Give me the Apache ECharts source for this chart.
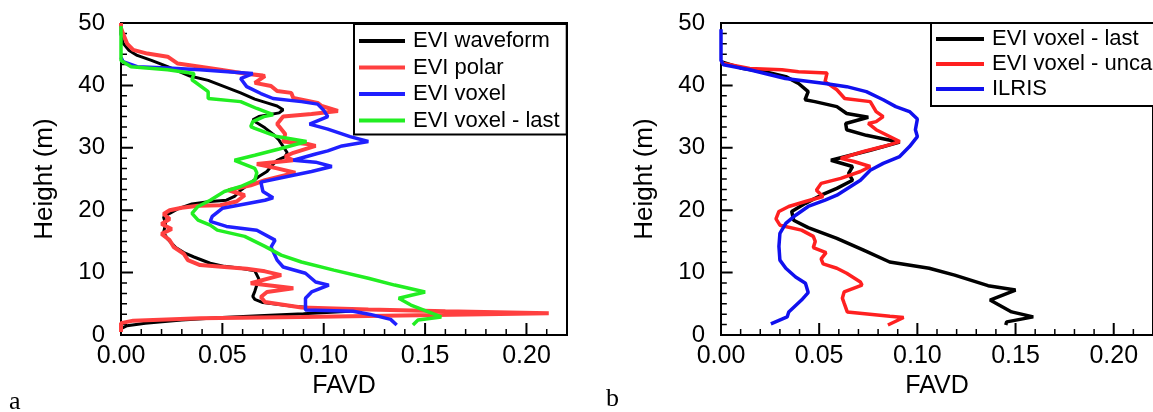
<!DOCTYPE html>
<html>
<head>
<meta charset="utf-8">
<script src="https://cdn.jsdelivr.net/npm/echarts@6/dist/echarts.min.js"></script>
<style>
  html, body { margin: 0; padding: 0; background: #fff; }
  #chart { width: 1153px; height: 412px; }
</style>
</head>
<body>
<div id="chart"></div>
<script>
// axis ranges and tick positions
const xRange = [0, 0.22]
const yRange = [0, 50]
const xMajorTicks = [0.05, 0.10, 0.15, 0.20]
const xMinorTicks = [0.01, 0.02, 0.03, 0.04, 0.06, 0.07, 0.08, 0.09, 0.11, 0.12, 0.13, 0.14, 0.16, 0.17, 0.18, 0.19, 0.21]
const yMajorTicks = [10, 20, 30, 40]
const yMinorTicks = [1.667, 3.333, 5, 6.667, 8.333, 11.667, 13.333, 15, 16.667, 18.333, 21.667, 23.333, 25, 26.667, 28.333, 31.667, 33.333, 35, 36.667, 38.333, 41.667, 43.333, 45, 46.667, 48.333]

// panel a : [FAVD, height]
const aWaveform = [[0.000,49.0],[0.000,48.2],[0.001,46.8],[0.004,45.6],[0.008,44.8],[0.015,44.0],[0.023,43.0],[0.034,41.5],[0.043,40.8],[0.051,39.8],[0.059,38.8],[0.066,37.8],[0.072,37.2],[0.077,36.7],[0.080,36.1],[0.078,35.6],[0.068,35.0],[0.065,34.5],[0.067,34.0],[0.071,33.2],[0.075,32.2],[0.078,31.2],[0.080,30.2],[0.082,29.2],[0.081,28.6],[0.077,28.0],[0.074,27.0],[0.072,26.2],[0.068,25.4],[0.064,24.4],[0.059,23.2],[0.056,22.2],[0.052,21.6],[0.044,21.4],[0.035,21.0],[0.028,20.2],[0.024,19.5],[0.021,18.9],[0.022,17.8],[0.021,16.4],[0.023,15.4],[0.027,14.0],[0.031,13.2],[0.036,12.5],[0.044,11.5],[0.051,11.0],[0.059,10.7],[0.066,10.3],[0.068,9.0],[0.067,8.0],[0.066,7.0],[0.065,6.2],[0.066,5.7],[0.070,5.2],[0.085,4.6],[0.100,4.2],[0.113,3.8],[0.090,3.4],[0.068,3.1],[0.050,2.8],[0.030,2.4],[0.012,1.9],[0.003,1.5],[0.000,1.0]]
const aPolar = [[0.000,50.0],[0.000,49.2],[0.001,48.3],[0.003,46.7],[0.006,45.7],[0.013,45.1],[0.023,44.6],[0.028,43.5],[0.039,43.0],[0.049,42.5],[0.061,41.9],[0.070,41.6],[0.064,41.8],[0.071,41.5],[0.066,40.4],[0.074,39.9],[0.077,39.1],[0.084,38.8],[0.085,38.0],[0.097,37.2],[0.099,36.7],[0.107,35.9],[0.094,35.4],[0.080,35.0],[0.077,33.8],[0.081,32.2],[0.080,31.0],[0.092,30.6],[0.096,30.3],[0.085,29.2],[0.081,28.6],[0.085,28.0],[0.067,27.4],[0.077,26.7],[0.086,26.0],[0.071,24.8],[0.064,24.0],[0.053,23.2],[0.061,22.4],[0.057,21.4],[0.049,20.8],[0.038,20.7],[0.030,20.4],[0.024,20.0],[0.021,19.4],[0.024,18.6],[0.020,17.8],[0.025,17.0],[0.020,16.2],[0.024,15.2],[0.026,14.1],[0.031,13.0],[0.033,12.0],[0.039,11.2],[0.051,10.9],[0.062,10.6],[0.071,10.2],[0.079,9.6],[0.064,8.3],[0.080,7.7],[0.085,7.5],[0.072,6.9],[0.069,6.1],[0.071,5.3],[0.089,4.4],[0.122,4.1],[0.160,3.8],[0.211,3.5],[0.155,3.2],[0.089,2.9],[0.039,2.7],[0.006,2.3],[0.000,1.9],[0.000,0.5]]
const aVoxel = [[0.000,44.5],[0.001,43.8],[0.008,43.0],[0.023,42.8],[0.039,42.5],[0.056,42.1],[0.065,41.9],[0.059,41.1],[0.062,39.8],[0.069,38.7],[0.075,37.9],[0.089,37.4],[0.097,37.0],[0.100,36.0],[0.102,35.0],[0.093,33.8],[0.102,33.0],[0.113,31.8],[0.122,31.0],[0.109,30.3],[0.102,29.5],[0.096,29.0],[0.085,28.0],[0.096,27.7],[0.104,27.0],[0.094,26.2],[0.085,25.6],[0.069,24.5],[0.070,23.0],[0.075,22.0],[0.071,21.6],[0.050,20.3],[0.045,19.0],[0.044,18.2],[0.052,17.4],[0.067,16.8],[0.076,15.2],[0.074,14.1],[0.077,12.0],[0.080,10.9],[0.091,9.9],[0.096,8.5],[0.1025,8.0],[0.094,6.9],[0.091,5.9],[0.091,4.0],[0.1145,3.8],[0.123,3.3],[0.133,2.5],[0.136,1.6]]
const aVoxelLast = [[0.000,49.5],[0.000,46.0],[0.000,44.0],[0.005,43.0],[0.023,42.5],[0.036,41.9],[0.035,40.9],[0.043,39.0],[0.043,37.9],[0.059,37.4],[0.067,36.3],[0.075,35.3],[0.0705,35.0],[0.065,34.2],[0.064,33.4],[0.066,33.1],[0.077,31.8],[0.0915,31.0],[0.078,29.8],[0.066,28.8],[0.056,28.0],[0.066,26.7],[0.067,26.0],[0.066,24.8],[0.059,23.8],[0.051,23.0],[0.044,21.6],[0.038,20.6],[0.035,19.5],[0.038,18.4],[0.044,17.6],[0.0475,16.8],[0.061,15.8],[0.071,14.2],[0.079,12.8],[0.089,11.7],[0.105,10.4],[0.122,9.1],[0.135,8.0],[0.150,6.9],[0.137,5.9],[0.143,4.8],[0.158,2.9],[0.1465,2.4],[0.144,1.6]]

// panel b
const bVoxelLast = [[0.000,43.8],[0.010,42.8],[0.025,42.0],[0.033,41.4],[0.0395,40.3],[0.0444,39.0],[0.0428,37.7],[0.0478,37.4],[0.059,36.6],[0.064,35.5],[0.075,34.9],[0.0635,33.9],[0.064,32.9],[0.074,32.0],[0.091,30.9],[0.076,29.6],[0.056,28.0],[0.067,27.0],[0.065,25.9],[0.067,24.8],[0.059,23.5],[0.051,22.4],[0.043,21.1],[0.036,19.8],[0.037,18.4],[0.0444,17.2],[0.059,15.5],[0.0726,13.6],[0.0859,11.7],[0.106,10.7],[0.119,9.6],[0.136,7.9],[0.150,7.2],[0.137,5.6],[0.148,3.7],[0.159,2.9],[0.1455,2.1],[0.145,1.6]]
const bVoxelUncal = [[0.000,43.8],[0.0013,43.5],[0.0146,42.7],[0.031,42.5],[0.0395,42.2],[0.054,42.0],[0.053,40.6],[0.059,39.3],[0.063,37.9],[0.076,37.4],[0.079,35.8],[0.0826,35.0],[0.079,34.2],[0.075,33.9],[0.079,32.9],[0.091,31.0],[0.0826,30.2],[0.0726,29.4],[0.061,28.3],[0.0677,27.8],[0.076,27.0],[0.071,26.2],[0.061,25.1],[0.051,24.3],[0.0486,23.2],[0.052,22.2],[0.043,21.4],[0.0345,20.6],[0.0295,19.8],[0.028,18.6],[0.030,17.6],[0.041,16.8],[0.047,15.8],[0.048,15.0],[0.047,14.0],[0.0535,13.2],[0.051,12.2],[0.052,11.4],[0.059,10.7],[0.064,9.9],[0.071,8.5],[0.0718,8.0],[0.0627,6.9],[0.0618,5.9],[0.0627,5.1],[0.0643,3.7],[0.086,3.0],[0.093,2.8],[0.085,1.6]]
const bIlris = [[0.000,49.0],[0.000,46.0],[0.000,44.0],[0.0013,43.3],[0.0146,42.5],[0.0328,41.1],[0.053,40.3],[0.064,39.8],[0.074,39.0],[0.0826,37.7],[0.089,36.6],[0.096,35.8],[0.100,34.6],[0.099,32.9],[0.100,31.8],[0.096,30.2],[0.091,28.6],[0.0826,27.5],[0.076,26.4],[0.071,24.8],[0.066,23.8],[0.059,22.4],[0.053,21.6],[0.0444,20.6],[0.038,19.2],[0.033,17.9],[0.030,16.3],[0.0295,14.2],[0.030,12.0],[0.033,10.7],[0.038,9.3],[0.043,8.3],[0.0444,6.8],[0.041,5.6],[0.0345,3.7],[0.0337,2.9],[0.0254,1.8]]

const FONT = '"Liberation Sans", Arial, Helvetica, sans-serif'
const SERIF = '"Liberation Serif", "Times New Roman", serif'
const GRID_W = 446
const GRID_H = 312

function xMain (gridIndex) {
  return {
    type: 'value', gridIndex, min: xRange[0], max: xRange[1], interval: 0.05,
    name: 'FAVD', nameLocation: 'middle', nameGap: 37,
    nameTextStyle: { fontSize: 25, color: '#000', fontFamily: FONT },
    axisLine: { show: true, onZero: false, lineStyle: { color: '#000', width: 2 } },
    axisTick: { show: false },
    axisLabel: { margin: 9, fontSize: 25, color: '#000', fontFamily: FONT, showMaxLabel: false, formatter: v => v.toFixed(2) },
    splitLine: { show: false }
  }
}
function yMain (gridIndex) {
  return {
    type: 'value', gridIndex, min: yRange[0], max: yRange[1], interval: 10,
    name: 'Height (m)', nameLocation: 'middle', nameGap: 63,
    nameTextStyle: { fontSize: 26, color: '#000', fontFamily: FONT },
    axisLine: { show: true, onZero: false, lineStyle: { color: '#000', width: 2 } },
    axisTick: { show: false },
    axisLabel: { margin: 16, fontSize: 24, color: '#000', fontFamily: FONT },
    splitLine: { show: false }
  }
}
function curve (name, data, color, axis, width) {
  return {
    name, type: 'line', data, xAxisIndex: axis, yAxisIndex: axis,
    symbol: 'none', color, lineStyle: { color, width: width || 3.5 }
  }
}
// inward tick marks drawn as short broken line segments on the axes' scales
function tickSeries (axis, xs, ys, lenPx, width) {
  const dx = lenPx * (xRange[1] - xRange[0]) / GRID_W
  const dy = lenPx * (yRange[1] - yRange[0]) / GRID_H
  const data = []
  xs.forEach(v => { data.push([v, yRange[0]], [v, yRange[0] + dy], ['-', '-']) })
  ys.forEach(v => { data.push([xRange[0], v], [xRange[0] + dx, v], ['-', '-']) })
  return {
    name: 'ticks', type: 'line', data, xAxisIndex: axis, yAxisIndex: axis,
    symbol: 'none', silent: true, clip: false, connectNulls: false, z: 1,
    color: '#000', lineStyle: { color: '#000', width }
  }
}
function legend (left, top, data, pad, gap, iw) {
  return {
    orient: 'vertical', left, top, data, icon: 'rect', align: 'left',
    itemWidth: iw, itemHeight: 4, itemGap: gap, padding: pad,
    borderColor: '#000', borderWidth: 2, backgroundColor: '#fff',
    textStyle: { fontSize: 22, lineHeight: 22, color: '#000', fontFamily: FONT, padding: [0, 0, 0, 3] }
  }
}

const chart = echarts.init(document.getElementById('chart'))
chart.setOption({
  animation: false,
  backgroundColor: '#fff',
  grid: [
    { left: 121, top: 23, width: GRID_W, height: GRID_H, show: true, borderColor: '#000', borderWidth: 2 },
    { left: 721, top: 23, width: GRID_W, height: GRID_H, show: true, borderColor: '#000', borderWidth: 2 }
  ],
  xAxis: [xMain(0), xMain(1)],
  yAxis: [yMain(0), yMain(1)],
  legend: [
    legend(354, 24, ['EVI waveform', 'EVI polar', 'EVI voxel', 'EVI voxel - last'], [6, 7, 3, 5], 4.5, 46),
    legend(931, 23, ['EVI voxel - last ', 'EVI voxel - uncal', 'ILRIS'], [5, 7, 6, 5], 3, 48)
  ],
  series: [
    tickSeries(0, xMajorTicks, yMajorTicks, 12, 2),
    tickSeries(0, xMinorTicks, yMinorTicks, 6, 1.5),
    tickSeries(1, xMajorTicks, yMajorTicks, 12, 2),
    tickSeries(1, xMinorTicks, yMinorTicks, 6, 1.5),
    curve('EVI waveform', aWaveform, '#000000', 0, 3),
    curve('EVI polar', aPolar, '#ff4040', 0, 4),
    curve('EVI voxel', aVoxel, '#2020ff', 0),
    curve('EVI voxel - last', aVoxelLast, '#22ee22', 0),
    curve('EVI voxel - last ', bVoxelLast, '#000000', 1),
    curve('EVI voxel - uncal', bVoxelUncal, '#ff2020', 1),
    curve('ILRIS', bIlris, '#1010ee', 1)
  ],
  graphic: [
    { type: 'text', left: 9, top: 389, style: { text: 'a', fontSize: 26, fontFamily: SERIF, fill: '#000' } },
    { type: 'text', left: 606, top: 386, style: { text: 'b', fontSize: 26, fontFamily: SERIF, fill: '#000' } }
  ]
})
</script>
</body>
</html>
